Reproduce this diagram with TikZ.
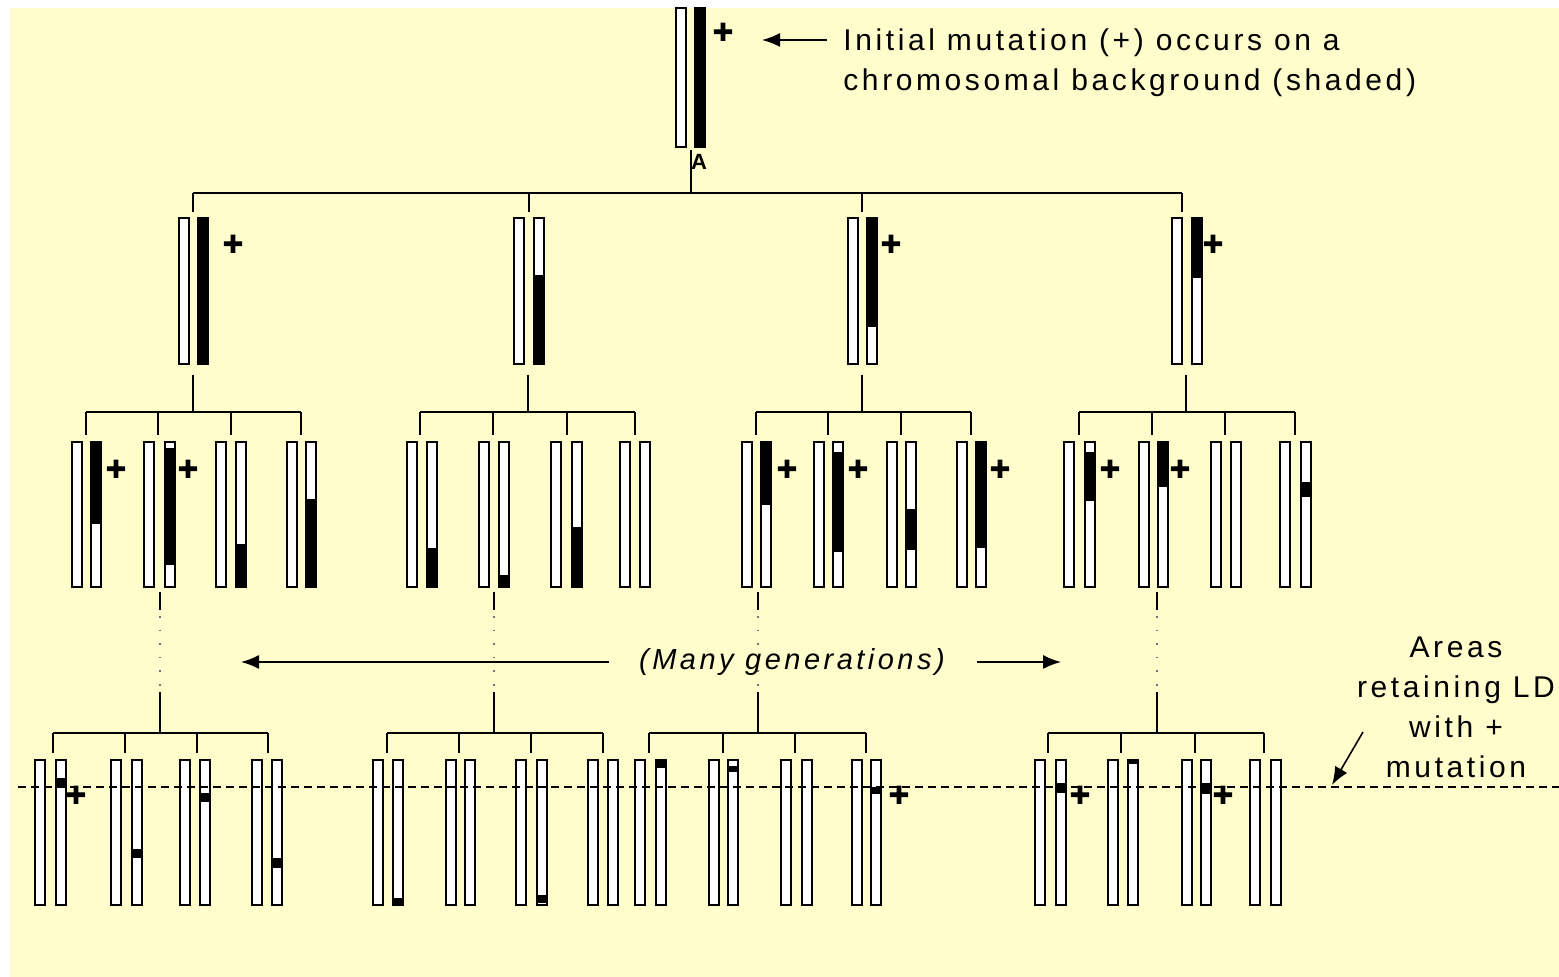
\documentclass[tikz,border=0pt]{standalone}
\usepackage{fontspec}
\setmainfont{Liberation Sans}
\newfontfamily\labfont[LetterSpace=12]{Liberation Sans}
\newfontfamily\plusfont{Liberation Sans}[BoldFeatures={FakeBold=3}]
\usetikzlibrary{arrows.meta}
\definecolor{bgyellow}{RGB}{255,253,204}
\newcommand{\chpair}[6]{%
  \draw[chrbar] (#1,#3) rectangle ({#1+10},#4);
  \draw[chrbar] (#2,#3) rectangle ({#2+10},#4);
  \fill[black] (#2,#5) rectangle ({#2+10},#6);
  \draw[chrline] (#2,#3) rectangle ({#2+10},#4);
}
\tikzset{
  chrbar/.style={draw=black, fill=white, line width=0.8pt},
  chrline/.style={draw=black, line width=0.8pt},
  tree/.style={draw=black, line width=0.8pt},
  dots/.style={draw=black!55, line width=0.6pt, dash pattern=on 0.8pt off 6pt},
  arr/.style={draw=black, line width=0.8pt, -{Latex[length=9pt,width=7pt]}},
  lab/.style={font=\labfont\fontsize{15}{20}\selectfont, inner sep=0pt},
  plus/.style={font=\plusfont\bfseries\fontsize{17}{17}\selectfont, inner sep=0pt},
  ldline/.style={draw=black, line width=0.8pt, dash pattern=on 4pt off 2.5pt}
}
\begin{document}
\begin{tikzpicture}[x=0.5pt,y=-0.5pt]
\useasboundingbox (0,0) rectangle (1559,977);
\fill[white] (0,0) rectangle (1559,977);
\fill[bgyellow] (10,8) rectangle (1559,977);

% ---------- tree connectors ----------
\draw[tree] (691,150) -- (691,193);
\draw[tree] (193,193) -- (1182,193);
\foreach \x in {193,529,862,1182} \draw[tree] (\x,193) -- (\x,212);

\foreach \x/\a/\b in {193/86/301, 528/420/635, 862/756/971, 1186/1079/1295} {
  \draw[tree] (\x,375) -- (\x,412);
  \draw[tree] (\a,412) -- (\b,412);
}
\foreach \x in {86,158,231,301,420,493,567,635,756,828,901,971,1079,1152,1225,1295}
  \draw[tree] (\x,412) -- (\x,435);

\foreach \x/\a/\b in {160/53/268, 494/387/603, 758/649/866, 1157/1048/1264} {
  \draw[tree] (\x,592) -- (\x,610);
  \draw[dots] (\x,616) -- (\x,690);
  \draw[tree] (\x,692) -- (\x,733);
  \draw[tree] (\a,733) -- (\b,733);
}
\foreach \x in {53,125,197,268,387,459,531,603,649,723,795,866,1048,1121,1195,1264}
  \draw[tree] (\x,733) -- (\x,753);

% ---------- chromosomes ----------
% level 0
\chpair{676}{695}{8}{147}{8}{147}
% level 1
\foreach \l/\r/\ba/\bb in {179/198/218/364, 514/534/275/364, 848/867/218/327, 1172/1192/218/278}
  {\chpair{\l}{\r}{218}{364}{\ba}{\bb}}
% level 2
\foreach \l/\r/\ba/\bb in {72/91/442/524, 144/165/448/565, 216/236/544/587, 287/306/499/587,
  407/427/548/587, 479/499/575/587, 551/572/527/587, 620/640/442/442,
  742/761/442/505, 814/833/452/552, 887/906/509/550, 957/976/442/548,
  1064/1085/452/501, 1139/1158/442/487, 1211/1231/442/442, 1280/1301/482/497}
  {\chpair{\l}{\r}{442}{587}{\ba}{\bb}}
% level 3
\foreach \l/\r/\ba/\bb in {35/56/778/787, 111/132/849/858, 180/200/793/802, 252/272/858/868,
  373/393/898/905, 446/465/760/760, 516/537/895/903, 588/608/760/760,
  635/656/760/768, 709/728/766/772, 781/802/760/760, 852/871/787/794,
  1035/1056/783/793, 1108/1128/760/764, 1182/1201/783/794, 1250/1271/760/760}
  {\chpair{\l}{\r}{760}{905}{\ba}{\bb}}

% ---------- plus marks ----------
\foreach \px/\py [count=\i] in {723/33, 233/245, 891/245, 1213/245,
  116/470, 188/470, 787/470, 858/470, 1000/470, 1110/470, 1180/470,
  76/796, 899/796, 1080/796, 1223/796}
  \node[plus] (plus\i) at (\px,\py) {+};

\node[font=\bfseries\fontsize{11}{11}\selectfont, inner sep=0pt] (alab) at (699,162) {A};

% ---------- texts and arrows ----------
\node[lab, anchor=base west] (t1) at (843,51) {Initial mutation (+) occurs on a};
\node[lab, anchor=base west] (t2) at (843,91) {chromosomal background (shaded)};
\coordinate (ta0) at (827,40);
\coordinate (ta1) at (762,40);
\draw[arr] (ta0) -- (ta1);

\node[lab, font=\labfont\itshape\fontsize{14.5}{20}\selectfont] (mg) at (792,662) {(Many generations)};
\coordinate (mgl) at (241,662);
\coordinate (mgr) at (1061,662);
\draw[arr] ([xshift=-15pt]mg.west) -- (mg.west -| mgl);
\draw[arr] ([xshift=16pt]mg.east) -- (mg.east -| mgr);

\node[lab, align=center] (areas) at (1456,707) {Areas\\retaining LD\\with +\\mutation};
\coordinate (aa0) at (1363,732);
\coordinate (aa1) at (1332,785);
\draw[arr] (aa0) -- (aa1);

% dashed line of retained LD
\coordinate (d0) at (18,787);
\coordinate (d1) at (1559,787);
\draw[ldline] (d0) -- (d1);
\end{tikzpicture}
\end{document}
